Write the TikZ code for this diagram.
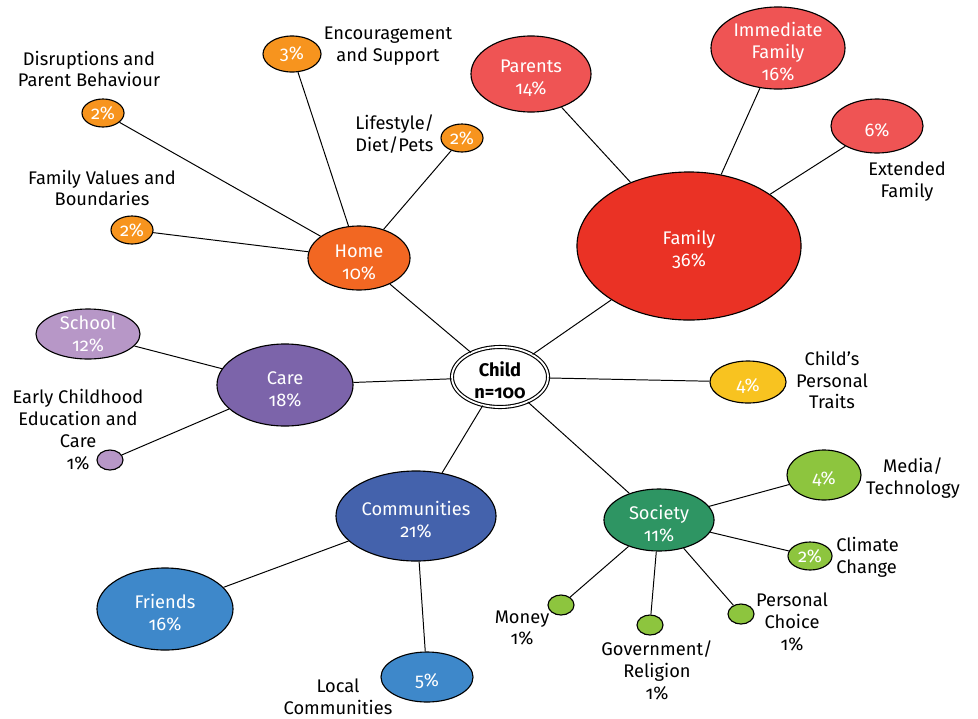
\documentclass[tikz,border=0pt]{standalone}
\usepackage{fontspec}
\setmainfont{Fira Sans}[Numbers=OldStyle]
\usetikzlibrary{shapes.geometric}
\definecolor{famred}{RGB}{234,50,37}
\definecolor{famlight}{RGB}{239,84,84}
\definecolor{homeorange}{RGB}{242,103,34}
\definecolor{homelight}{RGB}{247,148,30}
\definecolor{carepurple}{RGB}{124,100,170}
\definecolor{carelight}{RGB}{183,151,199}
\definecolor{comblue}{RGB}{68,98,172}
\definecolor{comlight}{RGB}{62,136,202}
\definecolor{socgreen}{RGB}{46,149,99}
\definecolor{soclight}{RGB}{141,197,62}
\definecolor{traityellow}{RGB}{248,195,32}
% strut that lowers bubble text a little
\newcommand{\tp}{\rule{0pt}{15pt}}

\begin{document}
\begin{tikzpicture}[x=0.025cm,y=-0.025cm,
 every node/.style={font=\fontsize{13}{15.6}\selectfont},
 bub/.style 2 args={ellipse,draw=black,line width=.8pt,inner xsep=0pt,inner ysep=-4pt,minimum width=#1*0.05cm,minimum height=#2*0.05cm,text=white,align=center},
 tag/.style={align=center,text=black,inner sep=0pt},
 link/.style={draw=black,line width=.7pt}]
\useasboundingbox (0,0) rectangle (978,718);
% centre
\node[bub={48}{30},fill=white,text=black,double=white,double distance=1.3pt,font=\fontsize{13}{15.6}\selectfont\bfseries] (child) at (500,377) {\tp Child\\n=100};
% family
\node[bub={112}{74},fill=famred] (family) at (689,246) {\tp Family\\36\%};
\node[bub={60}{38},fill=famlight] (parents) at (531,74) {\tp Parents\\14\%};
\node[bub={67}{41},fill=famlight,inner ysep=-7pt] (immfam) at (778,48) {\tp Immediate\\Family\\16\%};
\node[bub={46}{27},fill=famlight] (extfam) at (877,126) {\tp 6\%};
\node[tag] (l-extfam) at (907,182) {Extended\\Family};
% home
\node[bub={51}{32},fill=homeorange] (home) at (359,258) {\tp Home\\10\%};
\node[bub={29}{18},fill=homelight] (encour) at (292,54) {3\%};
\node[bub={21}{14},fill=homelight] (disrupt) at (103,113) {2\%};
\node[bub={21}{14},fill=homelight] (lifestyle) at (462,138) {2\%};
\node[bub={21}{14},fill=homelight] (values) at (132,230) {2\%};
\node[tag] (l-encour) at (388,46) {Encouragement\\and Support};
\node[tag] (l-disrupt) at (89,69) {Disruptions and\\Parent Behaviour};
\node[tag,align=left,anchor=west] (l-lifestyle) at (355,134) {Lifestyle/\\Diet/Pets};
\node[tag] (l-values) at (102,188) {Family Values and\\Boundaries};
% care
\node[bub={68}{41},fill=carepurple] (care) at (285,385) {\tp Care\\18\%};
\node[bub={52}{25},fill=carelight] (school) at (88,334) {School\\12\%};
\node[bub={13}{10},fill=carelight] (ecec) at (110,460) {};
\node[tag] (l-ecec) at (78,430) {Early Childhood\\Education and\\Care\\1\%};
% traits
\node[bub={38}{21},fill=traityellow] (traits) at (748,382) {\tp 4\%};
\node[tag] (l-traits) at (832,380) {Child’s\\Personal\\Traits};
% communities
\node[bub={80}{45},fill=comblue] (communities) at (416,516) {\tp Communities\\21\%};
\node[bub={68}{41},fill=comlight] (friends) at (165,609) {\tp Friends\\16\%};
\node[bub={46}{25},fill=comlight] (local) at (427,677) {\tp 5\%};
\node[tag] (l-local) at (338,697) {Local\\Communities};
% society
\node[bub={55}{31},fill=socgreen] (society) at (659,520) {\tp Society\\11\%};
\node[bub={37}{25},fill=soclight] (media) at (824,475) {\tp 4\%};
\node[bub={22}{14},fill=soclight] (climate) at (810,556) {2\%};
\node[bub={13}{10},fill=soclight] (money) at (561,605) {};
\node[bub={13}{10},fill=soclight] (gov) at (650,625) {};
\node[bub={13}{10},fill=soclight] (choice) at (741,614) {};
\node[tag] (l-media) at (913,478) {Media/\\Technology};
\node[tag,align=left,anchor=west] (l-climate) at (836,557) {Climate\\Change};
\node[tag] (l-money) at (522,628) {Money\\1\%};
\node[tag] (l-gov) at (657,670) {Government/\\Religion\\1\%};
\node[tag] (l-choice) at (792,622) {Personal\\Choice\\1\%};
% connectors
\foreach \a/\b in {child/family,child/home,child/care,child/traits,child/communities,child/society,
 family/parents,family/immfam,family/extfam,home/encour,home/disrupt,home/lifestyle,home/values,
 care/school,care/ecec,communities/friends,communities/local,
 society/media,society/climate,society/money,society/gov,society/choice}
 \draw[link] (\a)--(\b);
\end{tikzpicture}
\end{document}
